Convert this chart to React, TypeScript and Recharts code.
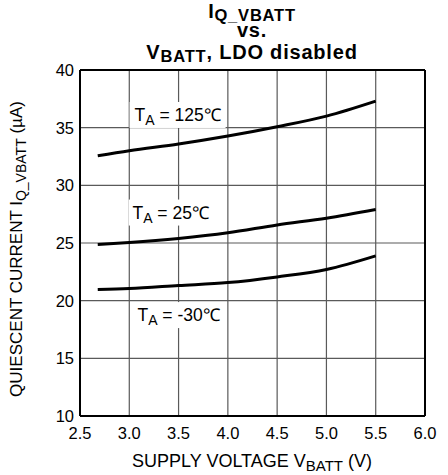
import React from 'react';
import { CartesianGrid, Line, LineChart, ReferenceDot, ReferenceLine, XAxis, YAxis } from 'recharts';

// supply voltage (V) sample points
const voltage = [2.68, 3.0, 3.5, 4.0, 4.5, 5.0, 5.5];
// quiescent current (µA) per temperature
const hot125 = [32.56, 33.0, 33.58, 34.27, 35.08, 36.0, 37.3];
const room25 = [24.87, 25.04, 25.39, 25.88, 26.57, 27.15, 27.9];
const coldM30 = [20.96, 21.05, 21.31, 21.57, 22.06, 22.7, 23.88];

const xTicks = [2.5, 3.0, 3.5, 4.0, 4.5, 5.0, 5.5, 6.0];
const yTicks = [10, 15, 20, 25, 30, 35, 40];

// curve annotations: anchor in data units + temperature text
const tempLabels = [
  { v: 3.49, i: 36.1, temp: '125' },
  { v: 3.42, i: 27.64, temp: '25' },
  { v: 3.5, i: 18.75, temp: '-30' },
];

const data = voltage.map((v, k) => ({ v, hot: hot125[k], room: room25[k], cold: coldM30[k] }));

const FONT = '"Liberation Sans", Arial, sans-serif';
const INK = '#000';
const GRID = '#5a5a5a';

function TempTag(props: any) {
  const { cx, cy, temp } = props;
  const w = temp.length > 2 ? 96 : 84;
  return (
    <g>
      <rect x={cx - w / 2} y={cy - 13} width={w} height={26} fill="#fff" />
      <text x={cx} y={cy + 6} textAnchor="middle" fontFamily={FONT} fontSize={17.5} fill={INK}>
        T<tspan fontSize={14} dy={4}>A</tspan>
        <tspan dy={-4}>{` = ${temp}\u2103`}</tspan>
      </text>
    </g>
  );
}

function YTitle() {
  return (
    <text
      transform="translate(22,249) rotate(-90)"
      textAnchor="middle"
      fontFamily={FONT}
      fontSize={17}
      fill={INK}
    >
      QUIESCENT CURRENT I<tspan fontSize={14} dy={4}>Q_VBATT</tspan>
      <tspan dy={-4}> (µA)</tspan>
    </text>
  );
}

function XTitle() {
  return (
    <text x={252} y={467} textAnchor="middle" fontFamily={FONT} fontSize={18} fill={INK}>
      SUPPLY VOLTAGE V<tspan fontSize={15} dy={4}>BATT</tspan>
      <tspan dy={-4}> (V)</tspan>
    </text>
  );
}

export default function App() {
  return (
    <div style={{ position: 'relative', width: 448, height: 475, background: '#fff' }}>
      <style>{'body{margin:0}'}</style>
      <svg width={448} height={70} style={{ position: 'absolute', left: 0, top: 0 }}>
        <g fontFamily={FONT} fontWeight="bold" fill={INK} textAnchor="middle" letterSpacing={0.8}>
          <text x={252} y={18} fontSize={20}>
            I<tspan fontSize={16.5} dy={3}>Q_VBATT</tspan>
          </text>
          <text x={252} y={37} fontSize={20}>vs.</text>
          <text x={252} y={59} fontSize={20}>
            V<tspan fontSize={16.5} dy={3}>BATT</tspan>
            <tspan dy={-3}>, LDO disabled</tspan>
          </text>
        </g>
      </svg>
      <LineChart
        width={448}
        height={475}
        data={data}
        margin={{ top: 70, right: 23, bottom: 0, left: 0 }}
        style={{ position: 'absolute', left: 0, top: 0 }}
      >
        <CartesianGrid stroke={GRID} strokeWidth={1.2} />
        <XAxis
          dataKey="v"
          type="number"
          domain={[2.5, 6]}
          ticks={xTicks}
          tickFormatter={(t: number) => t.toFixed(1)}
          height={59}
          tickLine={false}
          tickSize={6}
          tickMargin={5}
          axisLine={{ stroke: INK, strokeWidth: 2 }}
          tick={{ fill: INK, fontSize: 16.5, fontFamily: FONT }}
          label={<XTitle />}
        />
        <YAxis
          type="number"
          domain={[10, 40]}
          ticks={yTicks}
          width={80}
          tickLine={false}
          tickSize={4}
          tickMargin={2}
          axisLine={{ stroke: INK, strokeWidth: 2 }}
          tick={{ fill: INK, fontSize: 16.5, fontFamily: FONT }}
          label={<YTitle />}
        />
        <ReferenceLine y={40} stroke={INK} strokeWidth={2} />
        <ReferenceLine x={6} stroke={INK} strokeWidth={2} />
        {tempLabels.map((t) => (
          <ReferenceDot
            key={t.temp}
            x={t.v}
            y={t.i}
            r={0}
            shape={(p: any) => <TempTag {...p} temp={t.temp} />}
          />
        ))}
        <Line type="monotone" dataKey="hot" stroke={INK} strokeWidth={3} dot={false} isAnimationActive={false} />
        <Line type="monotone" dataKey="room" stroke={INK} strokeWidth={3} dot={false} isAnimationActive={false} />
        <Line type="monotone" dataKey="cold" stroke={INK} strokeWidth={3} dot={false} isAnimationActive={false} />
      </LineChart>
    </div>
  );
}
